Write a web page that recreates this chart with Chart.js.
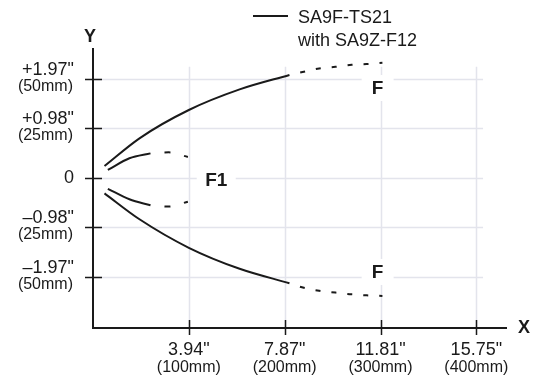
<!DOCTYPE html>
<html>
<head>
<meta charset="utf-8">
<script src="https://cdn.jsdelivr.net/npm/chart.js@4/dist/chart.umd.min.js"></script>
<style>
  html, body { margin: 0; padding: 0; background: #fff; }
  #wrap { width: 547px; height: 380px; }
</style>
</head>
<body>
<div id="wrap"><canvas id="chart" width="547" height="380"></canvas></div>
<script>
// Detecting area, mm (x = distance, y = offset)
const outerTopX = [12, 48.5, 100, 153, 205];
const outerTopY = [5.9, 19.9, 34.2, 44.6, 51.9];
const outerTopDashX = [205, 220, 236, 253, 270, 285.5, 302];
const outerTopDashY = [51.9, 53.5, 55.2, 56, 57, 57.4, 58];

const outerBotX = [12, 48.5, 100, 153, 205];
const outerBotY = [-7.9, -21, -35.4, -46, -53.3];
const outerBotDashX = [205, 220, 236, 253, 270, 285.5, 302];
const outerBotDashY = [-53.3, -55.6, -57.1, -58, -58.9, -59.4, -59.7];

const innerTopX = [15.5, 38, 60];
const innerTopY = [3.9, 9.8, 12.3];
const innerTopDashX = [60, 79, 99];
const innerTopDashY = [12.3, 12.8, 10.5];

const innerBotX = [15.5, 38, 60];
const innerBotY = [-5.6, -10.9, -13.9];
const innerBotDashX = [60, 79, 99];
const innerBotDashY = [-13.9, -14.6, -12.1];

const xTicks = [100, 200, 300, 400];
const xTickInch = ['3.94"', '7.87"', '11.81"', '15.75"'];
const xTickMm = ['(100mm)', '(200mm)', '(300mm)', '(400mm)'];

const yTicks = [50, 25, 0, -25, -50];
const yTickInch = ['+1.97"', '+0.98"', '0', '\u20130.98"', '\u20131.97"'];
const yTickMm = ['(50mm)', '(25mm)', '', '(25mm)', '(50mm)'];

// area labels: [text, x, y]
const areaLabels = [['F', 297, 45.3], ['F', 297, -47.6], ['F1', 128.6, -0.8]];

const INK = '#1a1a1a';
const GRID = '#e3e4ec';
const FONT = '"Liberation Sans", Arial, Helvetica, sans-serif';

const pts = (xs, ys) => xs.map((x, i) => ({ x: x, y: ys[i] }));

function curve(xs, ys, dash) {
  return {
    data: pts(xs, ys),
    borderColor: INK,
    borderWidth: 2,
    pointRadius: 0,
    fill: false,
    cubicInterpolationMode: 'monotone',
    borderDash: dash ? dash : [],
    borderDashOffset: dash ? dash[0] : 0
  };
}

const frame = {
  id: 'frame',
  beforeDatasetsDraw(chart) {
    const ctx = chart.ctx;
    const xs = chart.scales.x, ys = chart.scales.y;
    const area = chart.chartArea;
    ctx.save();

    // grid
    ctx.strokeStyle = GRID;
    ctx.lineWidth = 1.5;
    ctx.beginPath();
    yTicks.forEach(v => {
      const py = Math.round(ys.getPixelForValue(v)) + 0.5;
      ctx.moveTo(xs.getPixelForValue(0), py);
      ctx.lineTo(xs.getPixelForValue(407), py);
    });
    xTicks.forEach(v => {
      const px = Math.round(xs.getPixelForValue(v)) + 0.5;
      ctx.moveTo(px, ys.getPixelForValue(56));
      ctx.lineTo(px, area.bottom);
    });
    ctx.stroke();

    // white boxes behind area labels
    ctx.fillStyle = '#fff';
    areaLabels.forEach(([t, x, y]) => {
      const px = xs.getPixelForValue(x), py = ys.getPixelForValue(y);
      const w = t.length > 1 ? 39 : 32;
      ctx.fillRect(px - w / 2, py - 13, w, 26);
    });

    // axes
    ctx.strokeStyle = INK;
    ctx.lineWidth = 2;
    ctx.beginPath();
    ctx.moveTo(area.left, area.top - 2);
    ctx.lineTo(area.left, area.bottom + 1);
    ctx.lineTo(area.right, area.bottom + 1);
    ctx.stroke();

    // tick marks
    ctx.lineWidth = 1.5;
    ctx.beginPath();
    yTicks.forEach(v => {
      const py = Math.round(ys.getPixelForValue(v)) + 0.5;
      ctx.moveTo(area.left - 8, py);
      ctx.lineTo(area.left + 9, py);
    });
    xTicks.forEach(v => {
      const px = Math.round(xs.getPixelForValue(v)) + 0.5;
      ctx.moveTo(px, area.bottom - 7);
      ctx.lineTo(px, area.bottom + 8);
    });
    ctx.stroke();

    // tick labels
    ctx.fillStyle = INK;
    ctx.textAlign = 'right';
    yTicks.forEach((v, i) => {
      const py = ys.getPixelForValue(v);
      if (!yTickMm[i]) {
        ctx.font = '18px ' + FONT;
        ctx.textBaseline = 'middle';
        ctx.fillText(yTickInch[i], 74, py);
        return;
      }
      ctx.textBaseline = 'alphabetic';
      ctx.font = '18px ' + FONT;
      ctx.fillText(yTickInch[i], 74, py - 4);
      ctx.font = '16px ' + FONT;
      ctx.fillText(yTickMm[i], 73, py + 12);
    });
    ctx.textAlign = 'center';
    xTicks.forEach((v, i) => {
      const px = xs.getPixelForValue(v);
      ctx.font = '18px ' + FONT;
      ctx.fillText(xTickInch[i], px, 355);
      ctx.font = '16px ' + FONT;
      ctx.fillText(xTickMm[i], px, 372);
    });

    // area labels
    ctx.font = 'bold 19px ' + FONT;
    ctx.textBaseline = 'middle';
    areaLabels.forEach(([t, x, y]) => {
      ctx.fillText(t, xs.getPixelForValue(x), ys.getPixelForValue(y) + 1);
    });

    // axis titles
    ctx.font = 'bold 18px ' + FONT;
    ctx.fillText('Y', area.left - 3, 37);
    ctx.fillText('X', 524, area.bottom + 1);

    // legend
    ctx.lineWidth = 2;
    ctx.beginPath();
    ctx.moveTo(253, 16);
    ctx.lineTo(288, 16);
    ctx.stroke();
    ctx.textAlign = 'left';
    ctx.textBaseline = 'alphabetic';
    ctx.font = '18px ' + FONT;
    ctx.fillText('SA9F-TS21', 298, 23);
    ctx.fillText('with SA9Z-F12', 298, 46);

    ctx.restore();
  }
};

new Chart(document.getElementById('chart'), {
  type: 'line',
  data: {
    datasets: [
      curve(outerTopX, outerTopY),
      curve(outerTopDashX, outerTopDashY, [5, 11]),
      curve(outerBotX, outerBotY),
      curve(outerBotDashX, outerBotDashY, [5, 11]),
      curve(innerTopX, innerTopY),
      curve(innerTopDashX, innerTopDashY, [6, 14]),
      curve(innerBotX, innerBotY),
      curve(innerBotDashX, innerBotDashY, [6, 14])
    ]
  },
  options: {
    responsive: false,
    animation: false,
    layout: { padding: { left: 93, right: 40, top: 50, bottom: 53 } },
    scales: {
      x: { type: 'linear', min: 0, max: 432, display: false },
      y: { type: 'linear', min: -75.4, max: 64.5, display: false }
    },
    plugins: {
      legend: { display: false },
      tooltip: { enabled: false }
    }
  },
  plugins: [frame]
});
</script>
</body>
</html>
